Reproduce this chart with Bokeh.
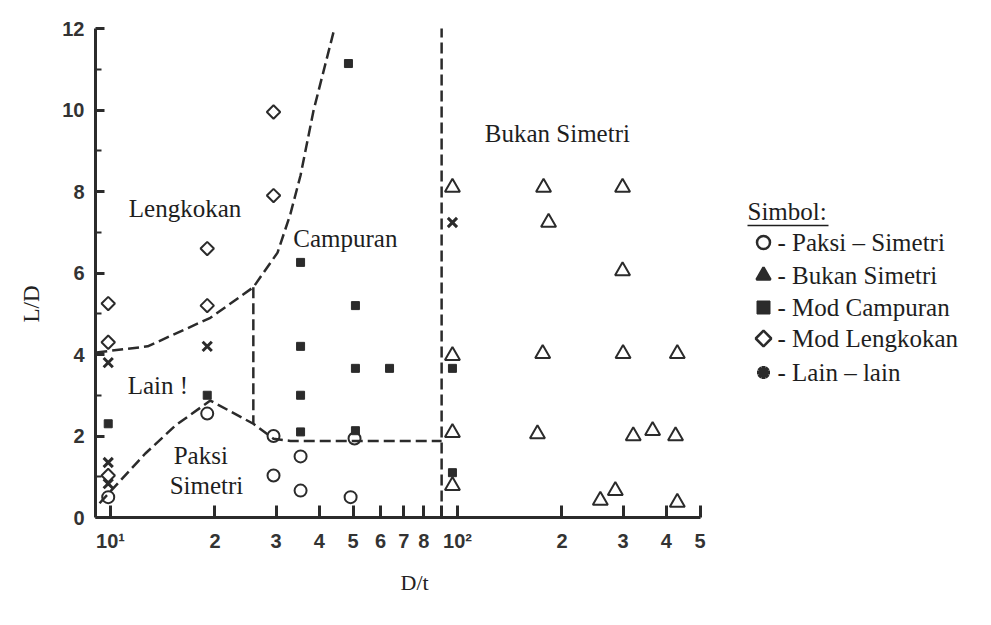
import math
from bokeh.plotting import figure
from bokeh.models import Range1d, FixedTicker, CustomJSTickFormatter, Title
from bokeh.core.properties import value
from bokeh.embed import file_html
from bokeh.resources import INLINE

# ---------------- data ----------------
paksi_x = [9.85, 19.0, 29.5, 29.5, 35.3, 35.3, 49.2, 50.5]
paksi_y = [0.5, 2.55, 2.0, 1.03, 1.5, 0.66, 0.5, 1.94]

bukan_x = [96.7, 177, 299, 183, 299, 96.7, 176, 300, 430, 96.7, 170, 321, 365, 425, 96.7, 258, 285, 430]
bukan_y = [8.1, 8.1, 8.1, 7.24, 6.05, 3.97, 4.02, 4.02, 4.02, 2.08, 2.05, 2.0, 2.13, 2.0, 0.78, 0.42, 0.66, 0.37]

campuran_x = [9.85, 19.0, 35.3, 35.3, 35.3, 35.3, 48.5, 50.8, 50.8, 63.7, 50.8, 96.7, 96.7]
campuran_y = [2.3, 3.0, 6.26, 4.2, 3.0, 2.1, 11.14, 5.2, 3.66, 3.66, 2.13, 3.66, 1.1]

lengkokan_x = [9.85, 9.85, 9.85, 19.0, 19.0, 29.5, 29.5]
lengkokan_y = [5.25, 4.3, 1.03, 6.6, 5.2, 9.95, 7.9]

lain_x = [9.85, 9.85, 9.85, 19.0, 96.7]
lain_y = [3.8, 1.35, 0.83, 4.2, 7.24]

# boundary lines
curve_x = [9.1, 12.8, 19.4, 25.8, 30.3, 33.0, 35.3, 38.5, 44.5]
curve_y = [4.05, 4.2, 4.9, 5.65, 6.5, 7.45, 8.4, 10.0, 12.1]
vert1_x = [25.8, 25.8]
vert1_y = [5.65, 2.3]
lower_x = [9.3, 12.6, 15.4, 19.4, 25.8, 29.5, 33.0, 90.0]
lower_y = [0.35, 1.57, 2.26, 2.87, 2.3, 1.93, 1.88, 1.88]
vert2_x = [90.0, 90.0]
vert2_y = [0.0, 12.1]

# region labels
region_text = ["Lengkokan", "Campuran", "Bukan Simetri", "Lain !", "Paksi", "Simetri"]
region_x = [16.4, 47.5, 194.0, 13.7, 18.2, 18.9]
region_y = [7.58, 6.85, 9.42, 3.24, 1.52, 0.79]

# ticks
x_ticks = [10, 20, 30, 40, 50, 60, 70, 80, 90, 100, 200, 300, 400, 500]
x_tick_labels = ["10\u00b9", "2", "3", "4", "5", "6", "7", "8", "", "10\u00b2", "2", "3", "4", "5"]
y_ticks = [0, 2, 4, 6, 8, 10, 12]
y_minor = [1, 3, 5, 7, 9, 11]

x_title = "D/t"
y_title = "L/D"
legend_title = "Simbol:"
legend_labels = ["- Paksi \u2013 Simetri", "- Bukan Simetri", "- Mod Campuran",
                 "- Mod Lengkokan", "- Lain \u2013 lain"]

# ---------------- layout (pixels) ----------------
W, H = 975, 609
F_LEFT, F_TOP, F_BOTTOM = 95, 28, 517
DECADE = 347.0          # px per decade
TEN_PX = 110.0          # pixel of x = 10
X0 = 10 ** (1 + (F_LEFT - TEN_PX) / DECADE)
X1 = 10 ** (1 + (W - TEN_PX) / DECADE)
Y_PER = (F_BOTTOM - F_TOP) / 12.0


def px_x(px):
    return 10 ** (1 + (px - TEN_PX) / DECADE)


def px_y(py):
    return (F_BOTTOM - py) / Y_PER


INK = "#2b2b2b"
SERIF = "Liberation Serif"

p = figure(width=W, height=H, x_axis_type="log",
           x_range=Range1d(X0, X1), y_range=Range1d(0, 12),
           output_backend="svg", toolbar_location=None,
           min_border_left=F_LEFT, min_border_top=F_TOP,
           min_border_bottom=H - F_BOTTOM, min_border_right=0)
p.outline_line_color = None
p.xgrid.visible = False
p.ygrid.visible = False

# boundary lines
for xs, ys in [(curve_x, curve_y), (vert1_x, vert1_y), (lower_x, lower_y), (vert2_x, vert2_y)]:
    p.line(xs, ys, line_color=INK, line_width=2.5, line_dash="11 5")

p.scatter(paksi_x, paksi_y, marker="circle", size=12, fill_color=None,
          line_color=INK, line_width=2)
p.scatter(bukan_x, bukan_y, marker="triangle", size=15, fill_color=None,
          line_color=INK, line_width=2)
p.scatter(campuran_x, campuran_y, marker="square", size=8, fill_color=INK,
          line_color=INK, line_width=1)
p.scatter(lengkokan_x, lengkokan_y, marker="square", angle=math.pi / 4, size=9.5,
          fill_color=None, line_color=INK, line_width=2)
p.scatter(lain_x, lain_y, marker="x", size=13, line_color=INK, line_width=3)

p.text(x=region_x, y=region_y, text=region_text, text_font=value(SERIF),
       text_font_size="25px", text_align="center", text_baseline="middle", text_color="#1e1e1e")

# ---------------- manual legend (right-hand side of the frame) ----------------
leg_rows = [242, 275, 307, 338, 372]
gx = px_x(763)
tx = px_x(777)
leg_markers = [
    dict(marker="circle", size=13, fill_color=None, line_width=2.5),
    dict(marker="triangle", size=14, fill_color=INK, line_width=2.5),
    dict(marker="square", size=13, fill_color=INK, line_width=1),
    dict(marker="square", angle=math.pi / 4, size=11, fill_color=None, line_width=2.5),
    dict(marker="asterisk", size=13, line_width=4),
]
for row, mk in zip(leg_rows, leg_markers):
    p.scatter([gx], [px_y(row)], line_color=INK, **mk)
p.text(x=[tx] * len(legend_labels), y=[px_y(r) for r in leg_rows], text=legend_labels,
       text_font=value(SERIF), text_font_size="25px", text_align="left",
       text_baseline="middle", text_color="#1e1e1e")
p.text(x=[px_x(747)], y=[px_y(211)], text=[legend_title], text_font=value(SERIF),
       text_font_size="25px", text_align="left", text_baseline="middle", text_color="#1e1e1e")
p.segment(x0=[px_x(747)], y0=[px_y(225)], x1=[px_x(828)], y1=[px_y(225)],
          line_color="#1e1e1e", line_width=1.5)

# ---------------- axes ----------------
xa = p.xaxis[0]
xa.bounds = (X0, 500)
xa.ticker = FixedTicker(ticks=x_ticks, minor_ticks=[])
xa.formatter = CustomJSTickFormatter(
    args=dict(tvals=x_ticks, tlabs=x_tick_labels),
    code="""
    for (let i = 0; i < tvals.length; i++) {
        if (Math.abs(tvals[i] - tick) < 1e-6 * tvals[i]) return tlabs[i];
    }
    return '';
    """)
ya = p.yaxis[0]
ya.ticker = FixedTicker(ticks=y_ticks, minor_ticks=y_minor)

for ax in (xa, ya):
    ax.axis_line_width = 3
    ax.axis_line_color = INK
    ax.major_tick_line_color = INK
    ax.major_tick_line_width = 3
    ax.major_tick_out = 0
    ax.minor_tick_out = 0
    ax.minor_tick_line_color = INK
    ax.minor_tick_line_width = 2
    ax.major_label_text_font = "Liberation Sans Narrow, Liberation Sans"
    ax.major_label_text_font_style = "bold"
    ax.major_label_text_font_size = "20px"
    ax.major_label_text_color = "#333333"

xa.major_tick_in = 12
xa.major_label_standoff = 12
ya.major_tick_in = 9
ya.minor_tick_in = 6
ya.major_label_standoff = 11

# axis titles as side-panel titles (positioned along the axis with an offset)
p.add_layout(Title(text=x_title, align="left", offset=400 - F_LEFT, standoff=26,
                   text_font=SERIF, text_font_size="22px", text_font_style="normal",
                   text_color="#222222"), "below")
p.add_layout(Title(text=y_title, align="left", offset=F_BOTTOM - 322, standoff=32,
                   text_font=SERIF, text_font_size="23px", text_font_style="normal",
                   text_color="#222222"), "left")

open("out.html", "w").write(file_html(p, INLINE))
